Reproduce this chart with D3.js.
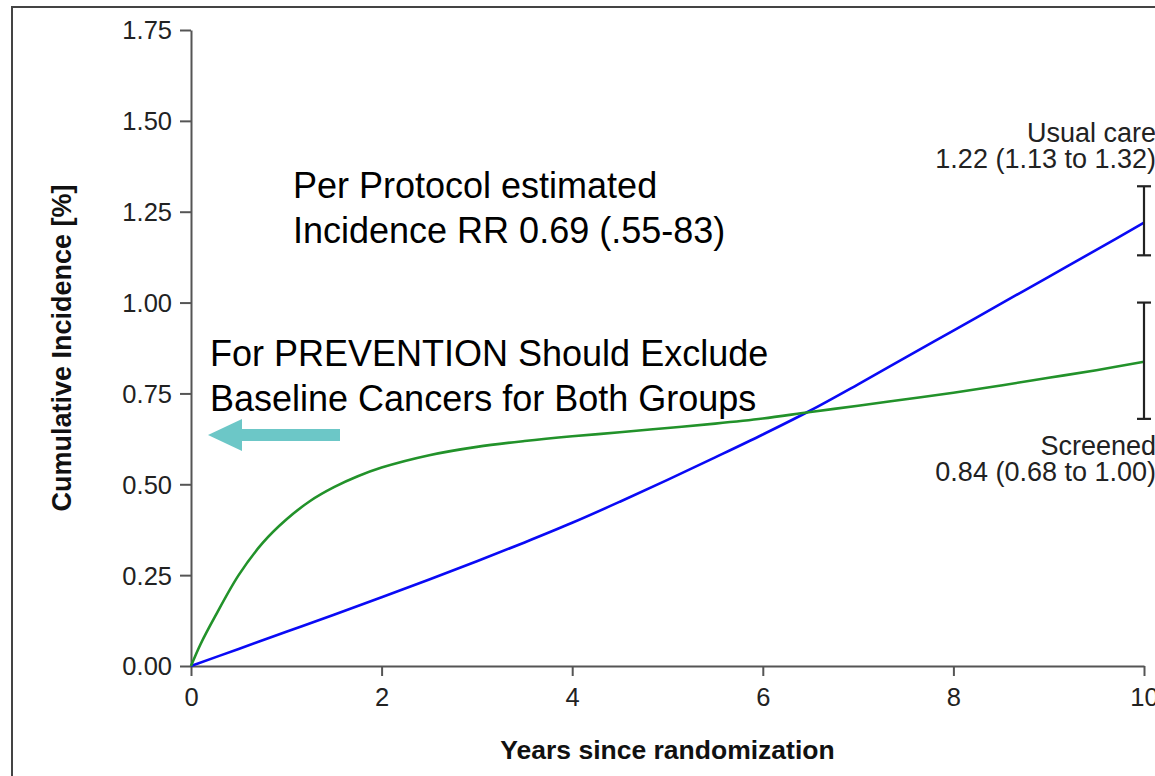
<!DOCTYPE html>
<html>
<head>
<meta charset="utf-8">
<script src="https://cdn.jsdelivr.net/npm/d3@7"></script>
<style>
  html, body { margin: 0; padding: 0; background: #fff; }
  svg { display: block; font-family: "Liberation Sans", Arial, sans-serif; }
</style>
</head>
<body>
<svg id="chart" width="1155" height="776"></svg>
<script>
// ---- data ----
const xTicks = [0, 2, 4, 6, 8, 10];
const yTicks = [0, 0.25, 0.5, 0.75, 1.0, 1.25, 1.5, 1.75];

const screenedYears = [0, 0.1, 0.25, 0.5, 0.75, 1, 1.25, 1.5, 1.75, 2, 2.5, 3, 3.5, 4, 4.5, 5, 5.5, 6, 6.5, 7, 7.5, 8, 8.5, 9, 9.5, 10];
const screenedValues = [0, 0.06, 0.135, 0.25, 0.338, 0.403, 0.454, 0.492, 0.522, 0.546, 0.580, 0.603, 0.619, 0.632, 0.643, 0.655, 0.667, 0.681, 0.699, 0.716, 0.734, 0.752, 0.772, 0.793, 0.814, 0.837];

const usualYears = [0, 0.5, 1, 1.5, 2, 2.5, 3, 3.5, 4, 4.5, 5, 5.5, 6, 6.5, 7, 7.5, 8, 8.5, 9, 9.5, 10];
const usualValues = [0, 0.047, 0.094, 0.141, 0.189, 0.238, 0.288, 0.340, 0.394, 0.452, 0.512, 0.574, 0.637, 0.703, 0.775, 0.849, 0.923, 0.997, 1.071, 1.145, 1.22];

const endEstimates = [
  { group: "Usual care", est: 1.22, lo: 1.13, hi: 1.32 },
  { group: "Screened",   est: 0.84, lo: 0.68, hi: 1.00 }
];

// ---- layout ----
const svg = d3.select("#chart");
const x = d3.scaleLinear().domain([0, 10]).range([191, 1144]);
const y = d3.scaleLinear().domain([0, 1.75]).range([666, 30]);

// outer frame
svg.append("rect")
  .attr("x", 12).attr("y", 7)
  .attr("width", 1200).attr("height", 800)
  .attr("fill", "none").attr("stroke", "#444").attr("stroke-width", 2);

// axes
const axisColor = "#555";
const yAxis = svg.append("g")
  .attr("transform", "translate(191,0)")
  .call(d3.axisLeft(y).tickValues(yTicks).tickFormat(d3.format(".2f")).tickSize(11).tickSizeOuter(0).tickPadding(8));
const xAxis = svg.append("g")
  .attr("transform", "translate(0,666)")
  .call(d3.axisBottom(x).tickValues(xTicks).tickFormat(d3.format("d")).tickSize(10).tickSizeOuter(0).tickPadding(12));

[yAxis, xAxis].forEach(g => {
  g.select(".domain").attr("stroke", axisColor).attr("stroke-width", 2);
  g.selectAll(".tick line").attr("stroke", axisColor).attr("stroke-width", 2);
  g.selectAll(".tick text").attr("fill", "#222").attr("font-size", 25.5)
    .attr("font-family", "'Liberation Sans', Arial, sans-serif");
});
yAxis.selectAll(".tick text").attr("dy", "0.35em");
xAxis.selectAll(".tick text").attr("dy", "0.71em");

// axis titles
svg.append("text")
  .attr("transform", `translate(71,${(y(0) + y(1.75)) / 2}) rotate(-90)`)
  .attr("text-anchor", "middle")
  .attr("font-weight", "bold").attr("font-size", 27).attr("fill", "#111")
  .text("Cumulative Incidence [%]");
svg.append("text")
  .attr("x", (x(0) + x(10)) / 2).attr("y", 759)
  .attr("text-anchor", "middle")
  .attr("font-weight", "bold").attr("font-size", 26.5).attr("fill", "#111")
  .text("Years since randomization");

// lines
const line = d3.line().curve(d3.curveCatmullRom.alpha(0.5)).x(d => x(d[0])).y(d => y(d[1]));
svg.append("path")
  .datum(usualYears.map((t, i) => [t, usualValues[i]]))
  .attr("d", line).attr("fill", "none").attr("stroke", "#0a0af5").attr("stroke-width", 2.6);
svg.append("path")
  .datum(screenedYears.map((t, i) => [t, screenedValues[i]]))
  .attr("d", line).attr("fill", "none").attr("stroke", "#22922a").attr("stroke-width", 2.6);

// error bars at 10 years
const eb = svg.append("g").attr("stroke", "#222").attr("stroke-width", 2.2);
endEstimates.forEach(d => {
  eb.append("line").attr("x1", x(10)).attr("x2", x(10)).attr("y1", y(d.lo)).attr("y2", y(d.hi));
  eb.append("line").attr("x1", x(10) - 7).attr("x2", x(10) + 7).attr("y1", y(d.lo)).attr("y2", y(d.lo));
  eb.append("line").attr("x1", x(10) - 7).attr("x2", x(10) + 7).attr("y1", y(d.hi)).attr("y2", y(d.hi));
});

// end labels
const fmt = d3.format(".2f");
const labelX = 1156;
const lab = svg.append("g").attr("text-anchor", "end").attr("font-size", 27).attr("fill", "#222");
lab.append("text").attr("x", labelX).attr("y", 142).text(endEstimates[0].group);
lab.append("text").attr("x", labelX).attr("y", 168)
  .text(`${fmt(endEstimates[0].est)} (${fmt(endEstimates[0].lo)} to ${fmt(endEstimates[0].hi)})`);
lab.append("text").attr("x", labelX).attr("y", 455).text(endEstimates[1].group);
lab.append("text").attr("x", labelX).attr("y", 481)
  .text(`${fmt(endEstimates[1].est)} (${fmt(endEstimates[1].lo)} to ${fmt(endEstimates[1].hi)})`);

// annotations
const ann = svg.append("g").attr("font-size", 36).attr("fill", "#000");
ann.append("text").attr("x", 293).attr("y", 198).text("Per Protocol estimated");
ann.append("text").attr("x", 293).attr("y", 243).text("Incidence RR 0.69 (.55-83)");
ann.append("text").attr("x", 210).attr("y", 366).text("For PREVENTION Should Exclude");
ann.append("text").attr("x", 210).attr("y", 411).text("Baseline Cancers for Both Groups");

// teal arrow pointing left
const ay = 435;
svg.append("path")
  .attr("d", `M208,${ay} L242,${ay - 16} L242,${ay - 6} L340,${ay - 6} L340,${ay + 6} L242,${ay + 6} L242,${ay + 16} Z`)
  .attr("fill", "#6cc7c7");
</script>
</body>
</html>
